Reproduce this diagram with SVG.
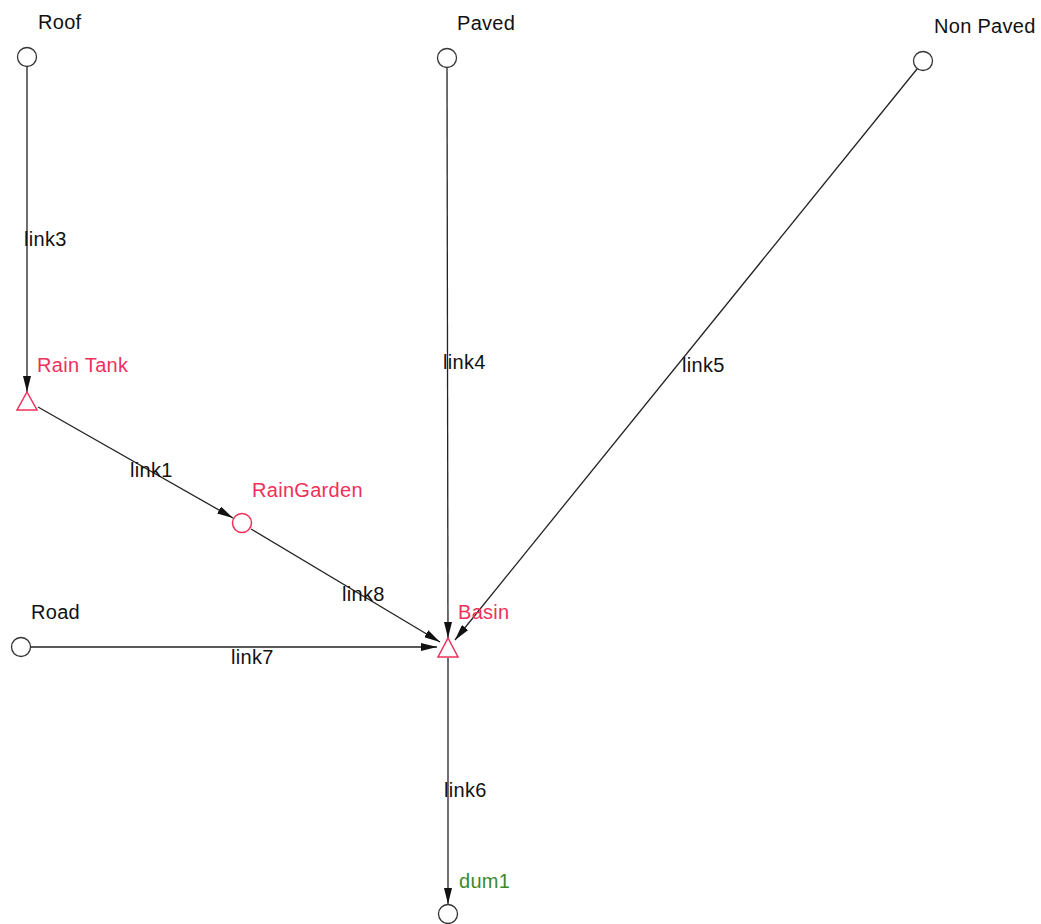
<svg xmlns="http://www.w3.org/2000/svg" width="1041" height="924" viewBox="0 0 1041 924">
<defs>
<marker id="arr" viewBox="0 0 16 8" refX="16" refY="4" markerWidth="16" markerHeight="8" markerUnits="userSpaceOnUse" orient="auto">
<path d="M0,0 L16,4 L0,8 z" fill="#111"/>
</marker>
<style>
text{font-family:"Liberation Sans",Arial,sans-serif;font-size:20px;letter-spacing:0.3px}
.lbl{fill:#111}
.red{fill:#f0305a}
.grn{fill:#3a8a2a}
.n{fill:#fff;stroke:#333;stroke-width:1.3}
.rn{fill:#fff;stroke:#f0305a;stroke-width:1.5}
.e{stroke:#222;stroke-width:1.3;fill:none;marker-end:url(#arr)}
</style>
</defs>
<rect width="1041" height="924" fill="#fff"/>
<g id="connectors">
<line class="e" x1="27" y1="67" x2="27" y2="392"/>
<line class="e" x1="38" y1="407" x2="233" y2="518"/>
<line class="e" x1="251" y1="529" x2="440" y2="642"/>
<line class="e" x1="447" y1="68" x2="448" y2="638"/>
<line class="e" x1="917" y1="69" x2="455" y2="640"/>
<line class="e" x1="31" y1="647" x2="437" y2="647"/>
<line class="e" x1="448" y1="658" x2="448" y2="904"/>
<text class="lbl" x="24" y="246">link3</text>
<text class="lbl" x="130" y="477">link1</text>
<text class="lbl" x="342" y="601">link8</text>
<text class="lbl" x="443" y="369">link4</text>
<text class="lbl" x="682" y="372">link5</text>
<text class="lbl" x="231" y="664">link7</text>
<text class="lbl" x="444" y="797">link6</text>
</g>
<g id="roof"><circle class="n" cx="27" cy="57" r="9.5"/><text class="lbl" x="38" y="29">Roof</text></g>
<g id="paved"><circle class="n" cx="447" cy="58" r="9.5"/><text class="lbl" x="457" y="30">Paved</text></g>
<g id="nonpaved"><circle class="n" cx="923" cy="61" r="9.5"/><text class="lbl" x="934" y="33">Non Paved</text></g>
<g id="raintank"><path class="rn" d="M27,392 L37,410 L17,410 z"/><text class="red" x="37" y="372">Rain Tank</text></g>
<g id="raingarden"><circle class="rn" cx="242" cy="523" r="9.5"/><text class="red" x="252" y="497">RainGarden</text></g>
<g id="road"><circle class="n" cx="21" cy="647" r="9.5"/><text class="lbl" x="31" y="619">Road</text></g>
<g id="basin"><path class="rn" d="M448,638 L458,657 L438,657 z"/><text class="red" x="458" y="619">Basin</text></g>
<g id="dum1"><circle class="n" cx="448" cy="914" r="9.5"/><text class="grn" x="459" y="888">dum1</text></g>
</svg>
